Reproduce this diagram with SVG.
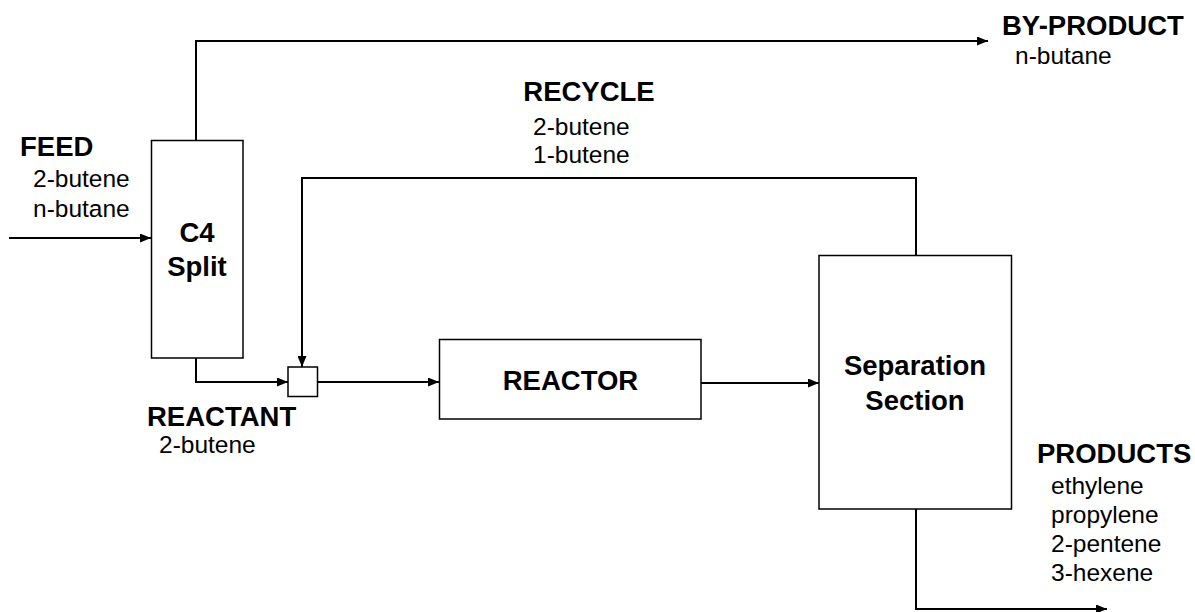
<svg xmlns="http://www.w3.org/2000/svg" width="1195" height="612" viewBox="0 0 1195 612">
<style>
.box{fill:#fff;stroke:#000;stroke-width:1.5}
.ln{fill:none;stroke:#000;stroke-width:2}
.b{font-family:"Liberation Sans",Arial,sans-serif;font-weight:bold;font-size:27.5px;fill:#000}
.r{font-family:"Liberation Sans",Arial,sans-serif;font-size:24.5px;fill:#000}
</style>
<defs>
<marker id="ah" markerWidth="11" markerHeight="9" refX="11" refY="4.5" orient="auto" markerUnits="userSpaceOnUse">
<path d="M0,0 L11,4.5 L0,9 Z" fill="#000"/>
</marker>
</defs>
<rect width="1195" height="612" fill="#fff"/>
<g id="connectors">
<path class="ln" d="M9,238 L151,238" marker-end="url(#ah)"/>
<path class="ln" d="M196,140 L196,41 L988,41" marker-end="url(#ah)"/>
<path class="ln" d="M196,358 L196,382 L288,382" marker-end="url(#ah)"/>
<path class="ln" d="M916,255 L916,178 L302,178 L302,367" marker-end="url(#ah)"/>
<path class="ln" d="M318,382 L439,382" marker-end="url(#ah)"/>
<path class="ln" d="M701,383 L819,383" marker-end="url(#ah)"/>
<path class="ln" d="M916,509 L916,609 L1107,609" marker-end="url(#ah)"/>
</g>
<g id="c4split">
<rect class="box" x="151.5" y="140.5" width="91.5" height="217.5"/>
<text class="b" x="197" y="242" text-anchor="middle">C4</text>
<text class="b" x="197" y="276" text-anchor="middle">Split</text>
</g>
<g id="mixer">
<rect class="box" x="288" y="367" width="29.5" height="29.5"/>
</g>
<g id="reactor">
<rect class="box" x="439.5" y="339.5" width="261.5" height="79.5"/>
<text class="b" x="570.5" y="390" text-anchor="middle">REACTOR</text>
</g>
<g id="separation">
<rect class="box" x="819" y="255.5" width="192.5" height="253.5"/>
<text class="b" x="915" y="375" text-anchor="middle">Separation</text>
<text class="b" x="915" y="410" text-anchor="middle">Section</text>
</g>
<g id="feed">
<text class="b" x="20" y="156">FEED</text>
<text class="r" x="33" y="187">2-butene</text>
<text class="r" x="33" y="217">n-butane</text>
</g>
<g id="byproduct">
<text class="b" x="1002" y="35">BY-PRODUCT</text>
<text class="r" x="1015" y="64">n-butane</text>
</g>
<g id="recycle">
<text class="b" x="589" y="101" text-anchor="middle">RECYCLE</text>
<text class="r" x="533" y="135">2-butene</text>
<text class="r" x="533" y="163">1-butene</text>
</g>
<g id="reactant">
<text class="b" x="147" y="426">REACTANT</text>
<text class="r" x="159" y="453">2-butene</text>
</g>
<g id="products">
<text class="b" x="1037" y="463">PRODUCTS</text>
<text class="r" x="1051" y="494">ethylene</text>
<text class="r" x="1051" y="523">propylene</text>
<text class="r" x="1051" y="552">2-pentene</text>
<text class="r" x="1051" y="581">3-hexene</text>
</g>
</svg>
